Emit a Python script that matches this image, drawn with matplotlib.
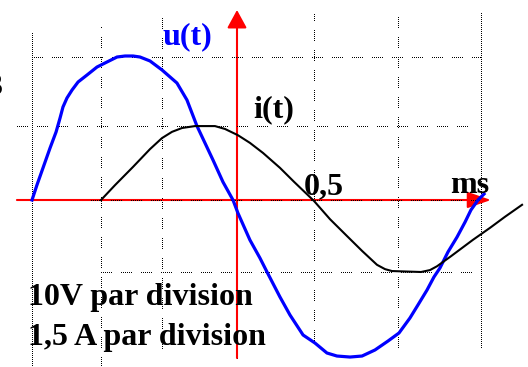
import numpy as np
import matplotlib
matplotlib.use('Agg')
import matplotlib.pyplot as plt

# u(t) trace, t in ms, u in V
u_t = [-1.331, -1.299, -1.260, -1.214, -1.175, -1.149, -1.130, -1.104, -1.071, -1.032,
       -0.974, -0.909, -0.844, -0.779, -0.727, -0.675, -0.630, -0.565, -0.487, -0.390, -0.325,
       -0.260, -0.208, -0.156, -0.091, -0.026, 0.006, 0.084, 0.149, 0.195, 0.279,
       0.344, 0.429, 0.506, 0.584, 0.649, 0.734, 0.812, 0.896, 0.981, 1.052,
       1.123, 1.175, 1.234, 1.279, 1.318, 1.370, 1.429, 1.481, 1.519, 1.565, 1.604]
u_v = [0, 2.08, 4.44, 7.22, 9.44, 11.39, 12.92, 14.17, 15.28, 16.39,
       17.36, 18.47, 19.17, 19.86, 20.0, 20.0, 19.86, 19.31, 18.06, 16.25, 13.89,
       10.28, 7.92, 5.56, 2.50, 0, -1.81, -5.56, -8.06, -10.0, -13.47,
       -15.97, -18.75, -19.86, -21.25, -21.67, -21.81, -21.67, -20.83, -19.58, -18.47,
       -16.39, -14.58, -12.5, -10.69, -9.44, -7.22, -5.14, -3.06, -1.39, 0, 0.83]

# i(t) trace, t in ms, i in A
i_t = [-0.883, -0.792, -0.675, -0.565, -0.487, -0.422, -0.357, -0.273, -0.143, -0.078,
       0.006, 0.084, 0.169, 0.279, 0.370, 0.500, 0.604, 0.714, 0.812, 0.909,
       0.961, 1.006, 1.195, 1.253, 1.299, 1.390, 1.461, 1.532, 1.643, 1.740, 1.851]
i_a = [0, 0.31, 0.69, 1.06, 1.29, 1.42, 1.50, 1.54, 1.54, 1.48,
       1.35, 1.19, 0.98, 0.67, 0.38, -0.02, -0.40, -0.75, -1.06, -1.35,
       -1.44, -1.48, -1.50, -1.46, -1.38, -1.17, -1.00, -0.83, -0.58, -0.35, -0.10]

# screen grid (ms / V)
grid_t = [-1.331, -0.883, -0.487, 0.0, 0.5, 1.045, 1.584]
grid_top = [23.33, 24.31, 26.11, 24.31, 26.11, 26.11, 26.11]
grid_bot = [-23.19, -23.19, -20.56, -21.94, -19.44, -20.42, -20.42]
grid_solid = [True, False, False, False, False, False, True]
hgrid_v = [19.86, 10.28, 0.0, -10.0]
hgrid_from = [-1.331, -1.429, -0.948, -0.883]
hgrid_to = [1.584, 1.532, 1.584, 1.584]

plt.rcParams['lines.scale_dashes'] = False
px = 0.72  # one pixel in points at 100 dpi
dots = (0, [1 * px, 2 * px])
groups = (0, [1 * px, 2 * px] * 5 + [1 * px, 10 * px])

fig = plt.figure(figsize=(5.28, 3.67), dpi=100)
ax = fig.add_axes([0, 0, 1, 1])
ax.set_xlim(-237 / 154, 291 / 154)
ax.set_ylim(-23.194, 27.778)
ax.axis('off')
ax2 = ax.twinx()
ax2.set_ylim(-23.194 * 0.15, 27.778 * 0.15)
ax2.axis('off')

for t, a, b, s in zip(grid_t, grid_top, grid_bot, grid_solid):
    ax.plot([t, t], [b, a], color='black', lw=1 * px, linestyle=dots if s else groups,
            antialiased=False, zorder=1)
for v, a, b in zip(hgrid_v, hgrid_from, hgrid_to):
    ax.plot([a, b], [v, v], color='black', lw=1 * px, linestyle=groups,
            antialiased=False, zorder=1.2)

# red axes with arrows
ax.annotate('', xy=(1.649, 0), xytext=(-1.429, 0),
            arrowprops=dict(arrowstyle='-|>,head_length=0.72,head_width=0.25',
                            color='red', lw=1.5, mutation_scale=20, shrinkA=0, shrinkB=0),
            zorder=1.1)
ax.annotate('', xy=(0, 26.39), xytext=(0, -21.94),
            arrowprops=dict(arrowstyle='-|>,head_length=0.55,head_width=0.3',
                            color='red', lw=1.5, mutation_scale=20, shrinkA=0, shrinkB=0),
            zorder=1.1)

ax.plot(u_t, u_v, color='#0000ff', lw=2.3, zorder=3, solid_joinstyle='round')
ax2.plot(i_t, i_a, color='black', lw=1.5, zorder=2, solid_joinstyle='round')

font = dict(family='Liberation Serif', weight='bold', size=23)
ax.text(-0.481, 21.67, 'u(t)', color='#0000ff', va='baseline', ha='left', **font)
ax.text(0.104, 11.53, 'i(t)', color='black', va='baseline', ha='left', **font)
ax.text(0.435, 0.83, '0,5', color='black', va='baseline', ha='left', **font)
ax.text(1.383, 0.97, 'ms', color='black', va='baseline', ha='left', **font)
ax.text(-1.357, -14.58, '10V par division', color='black', va='baseline', ha='left', **font)
ax.text(-1.357, -20.14, '1,5 A par division', color='black', va='baseline', ha='left', **font)
ax.text(-1.519, 14.58, '3', color='black', va='baseline', ha='right', **font)

fig.savefig('out.png', dpi=100)
